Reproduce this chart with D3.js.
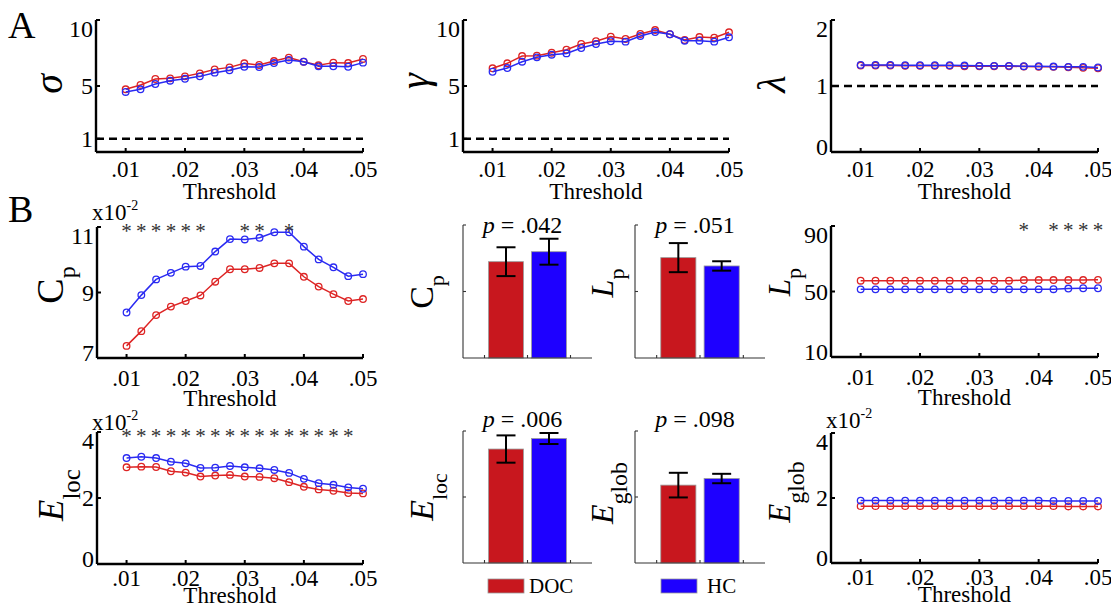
<!DOCTYPE html>
<html>
<head>
<meta charset="utf-8">
<script src="https://cdn.jsdelivr.net/npm/d3@7"></script>
<style>
  body { margin: 0; background: #fff; }
</style>
</head>
<body>
<svg id="fig" width="1111" height="607"></svg>
<script>
// thresholds (x categories)
const thresholds = [0.01, 0.0125, 0.015, 0.0175, 0.02, 0.0225, 0.025, 0.0275, 0.03,
                    0.0325, 0.035, 0.0375, 0.04, 0.0425, 0.045, 0.0475, 0.05];
const xTicks = [0.01, 0.02, 0.03, 0.04, 0.05];
const groups = ["DOC", "HC"];

// A: small-world measures
const sigmaDOC = [4.75, 5.08, 5.53, 5.58, 5.73, 5.96, 6.26, 6.41, 6.72, 6.59, 6.89, 7.15, 6.84, 6.57, 6.77, 6.74, 7.05];
const sigmaHC  = [4.55, 4.75, 5.15, 5.40, 5.55, 5.73, 6.01, 6.19, 6.46, 6.44, 6.74, 6.97, 6.84, 6.49, 6.49, 6.46, 6.77];
const gammaDOC = [6.34, 6.72, 7.27, 7.30, 7.52, 7.75, 8.18, 8.39, 8.74, 8.56, 8.94, 9.24, 8.92, 8.48, 8.71, 8.66, 9.07];
const gammaHC  = [6.08, 6.36, 6.84, 7.17, 7.37, 7.47, 7.88, 8.18, 8.39, 8.36, 8.79, 9.09, 8.92, 8.43, 8.43, 8.36, 8.69];
const lambdaDOC = [1.31, 1.31, 1.31, 1.305, 1.305, 1.305, 1.305, 1.30, 1.30, 1.30, 1.30, 1.295, 1.29, 1.29, 1.285, 1.275, 1.27];
const lambdaHC  = [1.32, 1.32, 1.32, 1.315, 1.315, 1.315, 1.315, 1.31, 1.305, 1.305, 1.305, 1.30, 1.30, 1.295, 1.29, 1.29, 1.28];

// B: network measures (Cp, Eloc, Eglob in x10^-2)
const cpDOC = [7.37, 7.82, 8.31, 8.57, 8.74, 8.91, 9.33, 9.71, 9.71, 9.75, 9.89, 9.89, 9.48, 9.18, 8.95, 8.74, 8.80];
const cpHC  = [8.39, 8.92, 9.40, 9.60, 9.79, 9.81, 10.25, 10.63, 10.62, 10.67, 10.84, 10.84, 10.40, 10.01, 9.77, 9.50, 9.56];
const lpDOC = [56.6, 56.6, 56.6, 56.6, 56.6, 56.6, 56.6, 56.6, 56.6, 56.6, 56.6, 57.0, 57.0, 57.0, 57.0, 57.0, 57.1];
const lpHC  = [51.3, 51.3, 51.3, 51.3, 51.3, 51.3, 51.3, 51.3, 51.3, 51.3, 51.3, 51.3, 51.3, 51.4, 51.8, 52.0, 52.0];
const elocDOC = [2.93, 2.95, 2.94, 2.81, 2.77, 2.65, 2.68, 2.70, 2.65, 2.64, 2.60, 2.48, 2.34, 2.26, 2.22, 2.15, 2.14];
const elocHC  = [3.21, 3.25, 3.21, 3.10, 3.05, 2.91, 2.92, 2.97, 2.93, 2.90, 2.85, 2.76, 2.58, 2.45, 2.40, 2.32, 2.28];
const eglobDOC = [1.75, 1.75, 1.75, 1.75, 1.75, 1.75, 1.75, 1.75, 1.75, 1.75, 1.75, 1.75, 1.75, 1.75, 1.74, 1.74, 1.74];
const eglobHC  = [1.92, 1.92, 1.92, 1.92, 1.92, 1.92, 1.92, 1.92, 1.92, 1.92, 1.92, 1.92, 1.92, 1.91, 1.91, 1.91, 1.91];

// thresholds (index) with significant group difference
const cpSig = [0, 1, 2, 3, 4, 5, 8, 9, 11];
const lpSig = [11, 13, 14, 15, 16];
const elocSig = [0, 1, 2, 3, 4, 5, 6, 7, 8, 9, 10, 11, 12, 13, 14, 15];

// integrated bar values: mean, error
const cpBarMean = [8.69, 9.59],   cpBarErr = [1.30, 1.17];
const lpBarMean = [56.6, 51.9],   lpBarErr = [8.2, 2.65];
const elocBarMean = [2.59, 2.83], elocBarErr = [0.31, 0.125];
const eglobBarMean = [1.77, 1.92], eglobBarErr = [0.28, 0.107];
const pValues = [".042", ".051", ".006", ".098"];

const lineCol = {DOC: "#dd2424", HC: "#2a2af2"};
const barCol = {DOC: "#c8171e", HC: "#1e00ff"};
const FONT = "Liberation Serif";

const svg = d3.select("#fig");

// rotated axis title with optional subscript
function yTitle(x, y, main, sub, o) {
  const t = svg.append("text")
    .attr("transform", `translate(${x},${y}) rotate(-90)`)
    .attr("text-anchor", "middle")
    .attr("font-size", o.size);
  t.append("tspan").text(main).attr("font-style", o.italic ? "italic" : "normal");
  if (sub) {
    t.append("tspan").text(sub).attr("dy", o.subDy).attr("font-size", o.subSize);
  }
}

function scaleLabel(x, y) {
  const t = svg.append("text").attr("x", x).attr("y", y).attr("font-size", 23);
  t.append("tspan").text("x10");
  t.append("tspan").text("-2").attr("dy", -10).attr("font-size", 14);
}

function linePanel(o) {
  const x = d3.scaleLinear().domain([0.005, 0.05]).range([o.left, o.right]);
  const y = d3.scaleLinear().domain(o.ydom).range([o.bottom, o.top]);
  const g = svg.append("g");

  if (o.dashed != null) {
    g.append("line")
      .attr("x1", o.left).attr("x2", o.right)
      .attr("y1", y(o.dashed)).attr("y2", y(o.dashed))
      .attr("stroke", "#000").attr("stroke-width", 2.4)
      .attr("stroke-dasharray", "8,5");
  }

  const line = d3.line().x((d, i) => x(thresholds[i])).y(d => y(d));
  [["DOC", o.doc], ["HC", o.hc]].forEach(([k, vals]) => {
    g.append("path").datum(vals)
      .attr("d", line).attr("fill", "none")
      .attr("stroke", lineCol[k]).attr("stroke-width", 1.5);
    g.selectAll(null).data(vals).enter().append("circle")
      .attr("cx", (d, i) => x(thresholds[i]))
      .attr("cy", d => y(d))
      .attr("r", 3.3)
      .attr("fill", "none")
      .attr("stroke", lineCol[k]).attr("stroke-width", 1.3);
  });

  // axes (MATLAB-like, inward ticks)
  const ax = g.append("g").attr("stroke", "#000");
  ax.append("line").attr("x1", o.left).attr("x2", o.right)
    .attr("y1", o.bottom).attr("y2", o.bottom).attr("stroke-width", 2.4);
  ax.append("line").attr("x1", o.left).attr("x2", o.left)
    .attr("y1", o.top).attr("y2", o.bottom).attr("stroke-width", 2.4);
  ax.selectAll(null).data(xTicks).enter().append("line")
    .attr("x1", d => x(d)).attr("x2", d => x(d))
    .attr("y1", o.bottom).attr("y2", o.bottom - 4).attr("stroke-width", 2);
  ax.selectAll(null).data(o.yticks).enter().append("line")
    .attr("x1", o.left).attr("x2", o.left + 4)
    .attr("y1", d => y(d)).attr("y2", d => y(d)).attr("stroke-width", 2);

  g.selectAll(null).data(xTicks).enter().append("text")
    .attr("x", d => x(d)).attr("y", o.bottom + o.tickDy)
    .attr("text-anchor", "middle").attr("font-size", 23)
    .text(d => d3.format(".2f")(d).replace(/^0/, ""));
  g.selectAll(null).data(o.yticks).enter().append("text")
    .attr("x", o.left - 3)
    .attr("y", d => Math.min(Math.max(y(d), o.top + 9), o.bottom - 5))
    .attr("dy", "0.35em")
    .attr("text-anchor", "end").attr("font-size", 24)
    .text(d => d);
  g.append("text")
    .attr("x", (o.left + o.right) / 2).attr("y", o.bottom + o.titleDy)
    .attr("text-anchor", "middle").attr("font-size", 23)
    .text("Threshold");

  if (o.sig) {
    g.selectAll(null).data(o.sig).enter().append("text")
      .attr("x", d => x(thresholds[d])).attr("y", o.top + 11)
      .attr("text-anchor", "middle").attr("font-size", 21)
      .attr("fill", "#333").text("*");
  }
}

function barPanel(o) {
  const x = d3.scaleLinear().domain([0, 3]).range([o.left, o.right]);
  const y = d3.scaleLinear().domain(o.ydom).range([o.bottom, o.top]);
  const g = svg.append("g");
  const bw = x(0.81) - x(0);

  groups.forEach((k, i) => {
    const cx = x(i + 1);
    g.append("rect")
      .attr("x", cx - bw / 2).attr("width", bw)
      .attr("y", y(o.mean[i])).attr("height", y(0) - y(o.mean[i]))
      .attr("fill", barCol[k]).attr("stroke", "#999").attr("stroke-width", 0.8);
    const hi = y(o.mean[i] + o.err[i]), lo = y(o.mean[i] - o.err[i]);
    g.append("line").attr("x1", cx).attr("x2", cx).attr("y1", hi).attr("y2", lo)
      .attr("stroke", "#000").attr("stroke-width", 2);
    [hi, lo].forEach(v => g.append("line")
      .attr("x1", cx - 9.5).attr("x2", cx + 9.5).attr("y1", v).attr("y2", v)
      .attr("stroke", "#000").attr("stroke-width", 2));
  });

  const ax = g.append("g").attr("stroke", "#333").attr("stroke-width", 1.1);
  ax.append("line").attr("x1", o.left).attr("x2", o.right)
    .attr("y1", o.bottom).attr("y2", o.bottom);
  ax.append("line").attr("x1", o.left).attr("x2", o.left)
    .attr("y1", o.top).attr("y2", o.bottom);
  ax.selectAll(null).data([0.5, 1.5, 2.5]).enter().append("line")
    .attr("x1", d => x(d)).attr("x2", d => x(d))
    .attr("y1", o.bottom).attr("y2", o.bottom - 3);
  ax.selectAll(null).data([o.ydom[1] / 2, o.ydom[1]]).enter().append("line")
    .attr("x1", o.left).attr("x2", o.left + 3)
    .attr("y1", d => y(d)).attr("y2", d => y(d));

  const t = g.append("text")
    .attr("x", (o.left + o.right) / 2 - 5).attr("y", o.top + o.pDy)
    .attr("text-anchor", "middle").attr("font-size", 24);
  t.append("tspan").text("p").attr("font-style", "italic");
  t.append("tspan").text(" = " + o.p);
}

// panel letters
svg.append("text").attr("x", 8).attr("y", 38).attr("font-size", 38).text("A");
svg.append("text").attr("x", 8).attr("y", 222).attr("font-size", 38).text("B");

// row A
linePanel({left: 96, right: 363, top: 20, bottom: 152, ydom: [0, 10], yticks: [1, 5, 10],
           doc: sigmaDOC, hc: sigmaHC, dashed: 1, tickDy: 25, titleDy: 47});
linePanel({left: 463, right: 729, top: 20, bottom: 152, ydom: [0, 10], yticks: [1, 5, 10],
           doc: gammaDOC, hc: gammaHC, dashed: 1, tickDy: 25, titleDy: 47});
linePanel({left: 831, right: 1098, top: 20, bottom: 152, ydom: [0, 2], yticks: [0, 1, 2],
           doc: lambdaDOC, hc: lambdaHC, dashed: 1, tickDy: 25, titleDy: 47});
yTitle(62, 84, "σ", null, {size: 40, italic: true});
yTitle(428, 81, "γ", null, {size: 40, italic: true});
yTitle(785, 84, "λ", null, {size: 40, italic: true});

// row B1
linePanel({left: 97, right: 363, top: 227, bottom: 358, ydom: [7, 11], yticks: [7, 9, 11],
           doc: cpDOC, hc: cpHC, sig: cpSig, tickDy: 28, titleDy: 48});
linePanel({left: 831, right: 1098, top: 226, bottom: 357, ydom: [10, 90], yticks: [10, 50, 90],
           doc: lpDOC, hc: lpHC, sig: lpSig, tickDy: 28, titleDy: 48});
barPanel({left: 463, right: 592, top: 225, bottom: 358, ydom: [0, 12],
          mean: cpBarMean, err: cpBarErr, p: pValues[0], pDy: 8});
barPanel({left: 635, right: 765, top: 225, bottom: 358, ydom: [0, 75],
          mean: lpBarMean, err: lpBarErr, p: pValues[1], pDy: 8});
scaleLabel(92, 220);
yTitle(63, 285, "C", "p", {size: 38, italic: false, subSize: 24, subDy: 12});
yTitle(433, 292, "C", "p", {size: 34, italic: false, subSize: 22, subDy: 11});
yTitle(613, 283, "L", "p", {size: 32, italic: true, subSize: 22, subDy: 11});
yTitle(790, 282, "L", "p", {size: 31, italic: true, subSize: 22, subDy: 11});

// row B2
linePanel({left: 97, right: 363, top: 432, bottom: 564, ydom: [0, 4], yticks: [0, 2, 4],
           doc: elocDOC, hc: elocHC, sig: elocSig, tickDy: 22, titleDy: 39});
linePanel({left: 831, right: 1098, top: 433, bottom: 563, ydom: [0, 4], yticks: [0, 2, 4],
           doc: eglobDOC, hc: eglobHC, tickDy: 22, titleDy: 39});
barPanel({left: 463, right: 592, top: 431, bottom: 563, ydom: [0, 3],
          mean: elocBarMean, err: elocBarErr, p: pValues[2], pDy: -4});
barPanel({left: 635, right: 765, top: 431, bottom: 563, ydom: [0, 3],
          mean: eglobBarMean, err: eglobBarErr, p: pValues[3], pDy: -4});
scaleLabel(92, 430);
scaleLabel(826, 428);
yTitle(63, 495, "E", "loc", {size: 35, italic: true, subSize: 25, subDy: 17});
yTitle(433, 497, "E", "loc", {size: 34, italic: true, subSize: 22, subDy: 14});
yTitle(613, 493, "E", "glob", {size: 32, italic: true, subSize: 24, subDy: 14});
yTitle(790, 492, "E", "glob", {size: 31, italic: true, subSize: 24, subDy: 14});

// legend
const leg = svg.append("g");
[[488, 529], [661, 707]].forEach(([rx, tx], i) => {
  leg.append("rect").attr("x", rx).attr("y", 579).attr("width", 36).attr("height", 14)
    .attr("fill", barCol[groups[i]]).attr("stroke", "#999").attr("stroke-width", 0.8);
  leg.append("text").attr("x", tx).attr("y", 593).attr("font-size", 21).text(groups[i]);
});

// serif font on every text
svg.selectAll("text").attr("font-family", FONT);
</script>
</body>
</html>
